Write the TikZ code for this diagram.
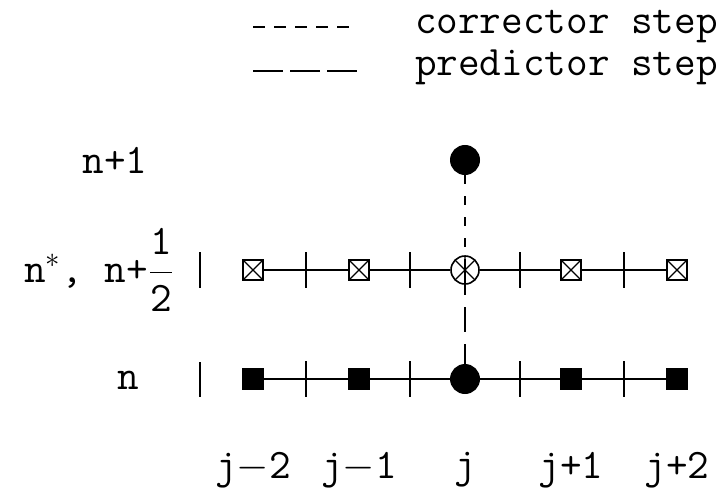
\documentclass[tikz,border=0pt]{standalone}
\begin{document}
\begin{tikzpicture}
[
    x=0.5pt, y=-0.5pt, line width=1pt,
    font=\fontsize{21}{25}\selectfont\ttfamily,
    corrector/.style={dash pattern=on 4.5pt off 6pt},
    predictor/.style={dash pattern=on 12.5pt off 6pt},
    fullsquare/.style={draw, fill, rectangle, minimum size=10pt, inner sep=0pt},
    fullcircle/.style={draw, fill, circle, minimum size=14pt, inner sep=0pt},
    crossbox/.style={draw, rectangle, minimum size=10pt, inner sep=0pt, line width=0.8pt,
        path picture={\draw[line width=0.6pt] (path picture bounding box.north west) -- (path picture bounding box.south east)
            (path picture bounding box.north east) -- (path picture bounding box.south west);}},
    crosscircle/.style={draw, circle, minimum size=14pt, inner sep=0pt, line width=0.8pt,
        path picture={\draw[line width=0.6pt] (path picture bounding box.north west) -- (path picture bounding box.south east)
            (path picture bounding box.north east) -- (path picture bounding box.south west)
            (path picture bounding box.north) -- (path picture bounding box.south);}}
]
    \useasboundingbox (0,0) rectangle (728,503);

    % legend
    \coordinate (c1) at (253,27);
    \coordinate (c2) at (352,27);
    \coordinate (p1) at (253,71);
    \coordinate (p2) at (357,71);
    \draw[dash pattern=on 6pt off 4.5pt] (c1) -- (c2);
    \draw[dash pattern=on 15pt off 3.5pt] (p1) -- (p2);
    \node[anchor=base west, inner sep=0pt] (corr) at (414,33) {corrector step};
    \node[anchor=base west, inner sep=0pt] (pred) at (414,75) {predictor step};

    % grid points
    \foreach \k in {0,1,3,4} {
        \node[fullsquare] (n\k) at (253+106*\k,379) {};
        \node[crossbox] (h\k) at (253+106*\k,270) {};
    }
    \node[fullcircle] (n2) at (465,379) {};
    \node[crosscircle] (h2) at (465,270) {};
    \node[fullcircle] (t2) at (465,160) {};

    % grid lines and ticks
    \foreach \k [evaluate=\k as \l using int(\k+1)] in {0,...,3} {
        \draw (n\k) -- (n\l) coordinate[pos=0.5] (nt\k);
        \draw (h\k) -- (h\l) coordinate[pos=0.5] (ht\k);
        \draw (nt\k) +(0,-18) -- +(0,18);
        \draw (ht\k) +(0,-18) -- +(0,18);
    }
    \draw (200,252) -- (200,288);
    \draw (200,362) -- (200,397);

    % steps
    \draw[corrector] (t2) -- (h2.center);
    \draw[predictor] (h2.center) -- (n2);

    % level labels
    \node (lnp) at (115,160) {n+1};
    \node[anchor=east] (lnh) at (182,270) {n$^*$, n+$\displaystyle\frac{\mbox{\ttfamily 1}}{\mbox{\ttfamily 2}}$};
    \node (ln) at (128,380) {n};

    % index labels
    \node (jm2) at (253,470) {j$-$2};
    \node (jm1) at (359,470) {j$-$1};
    \node (j0) at (465,470) {j};
    \node (jp1) at (571,470) {j+1};
    \node (jp2) at (677,470) {j+2};
\end{tikzpicture}
\end{document}
